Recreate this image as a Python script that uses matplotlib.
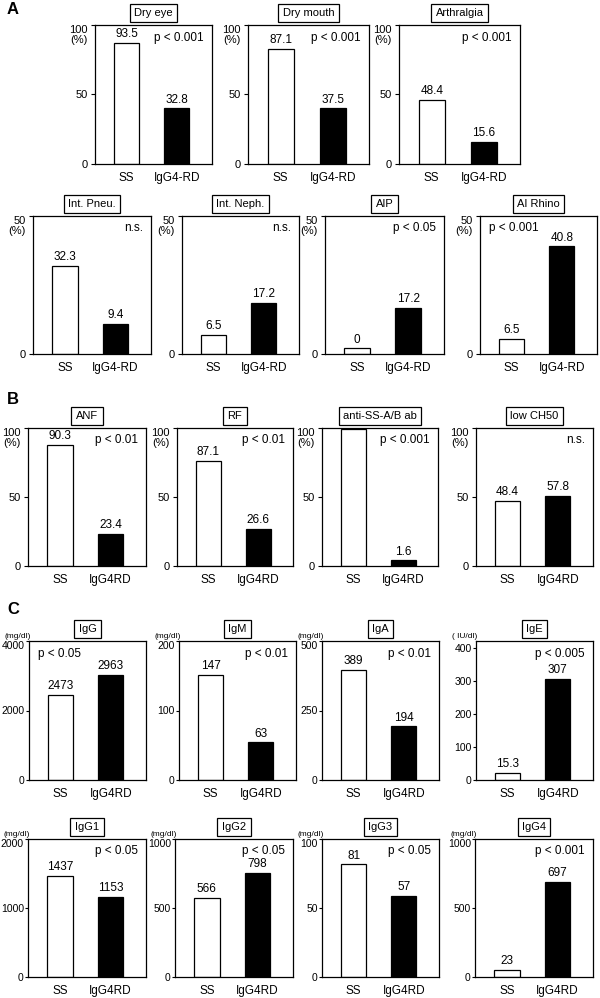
import matplotlib.pyplot as plt

plt.rcParams['font.family'] = ['Liberation Sans', 'DejaVu Sans']

# panel data (bar heights, labels as printed)
titles = ['Dry eye', 'Dry mouth', 'Arthralgia',
          'Int. Pneu.', 'Int. Neph.', 'AIP', 'AI Rhino',
          'ANF', 'RF', 'anti-SS-A/B ab', 'low CH50',
          'IgG', 'IgM', 'IgA', 'IgE',
          'IgG1', 'IgG2', 'IgG3', 'IgG4']
ss_bar = [87, 83, 46, 32, 7, 2, 5.4, 88, 76, 99, 47,
          2460, 151, 396, 21, 1464, 572, 81.6, 51]
rd_bar = [40, 40, 16, 11, 18.5, 16.7, 39, 23, 27, 4, 51,
          3020, 54, 193, 306, 1160, 754, 58.8, 688]
ss_text = ['93.5', '87.1', '48.4', '32.3', '6.5', '0', '6.5',
           '90.3', '87.1', '', '48.4',
           '2473', '147', '389', '15.3', '1437', '566', '81', '23']
rd_text = ['32.8', '37.5', '15.6', '9.4', '17.2', '17.2', '40.8',
           '23.4', '26.6', '1.6', '57.8',
           '2963', '63', '194', '307', '1153', '798', '57', '697']
p_text = ['p < 0.001', 'p < 0.001', 'p < 0.001',
          'n.s.', 'n.s.', 'p < 0.05', 'p < 0.001',
          'p < 0.01', 'p < 0.01', 'p < 0.001', 'n.s.',
          'p < 0.05', 'p < 0.01', 'p < 0.01', 'p < 0.005',
          'p < 0.05', 'p < 0.05', 'p < 0.05', 'p < 0.001']
p_left = ['AI Rhino', 'IgG']
y_ticks = [[0, 50, 100]] * 3 + [[0, 50]] * 4 + [[0, 50, 100]] * 4 + \
          [[0, 2000, 4000], [0, 100, 200], [0, 250, 500], [0, 100, 200, 300, 400],
           [0, 1000, 2000], [0, 500, 1000], [0, 50, 100], [0, 500, 1000]]
y_top = [100] * 3 + [50] * 4 + [100] * 4 + [4000, 200, 500, 420, 2000, 1000, 100, 1000]
units = [''] * 11 + ['(mg/dl)'] * 3 + ['( IU/dl)'] + ['(mg/dl)'] * 4
groups_a = ['SS', 'IgG4-RD']
groups_bc = ['SS', 'IgG4RD']

# layout in pixels: (top, bottom, [(left, right), ...])
rows = [(25, 164, [(95, 212), (248, 369), (399, 520)]),
        (216, 354, [(33, 151), (182, 299), (325, 444), (480, 597)]),
        (428, 566, [(28, 146), (177, 293), (322, 438), (476, 593)]),
        (641, 780, [(29, 146), (179, 296), (322, 439), (476, 593)]),
        (839, 977, [(28, 146), (175, 293), (322, 439), (475, 593)])]

W, H = 600, 998
fig = plt.figure(figsize=(6, 9.98), dpi=100)

i = 0
for r, (top, bot, cols) in enumerate(rows):
    for (l, rr) in cols:
        ax = fig.add_axes([l / W, 1 - bot / H, (rr - l) / W, (bot - top) / H])
        ax.bar([0, 1], [ss_bar[i], rd_bar[i]], width=0.5,
               color=['white', 'black'], edgecolor='black', linewidth=0.9)
        for x, h, t in [(0, ss_bar[i], ss_text[i]), (1, rd_bar[i], rd_text[i])]:
            ax.annotate(t, (x, h), xytext=(0, 2), textcoords='offset points',
                        ha='center', va='bottom', fontsize=8.5)
        ax.set_xlim(-0.63, 1.7)
        ax.set_ylim(0, y_top[i])
        ax.set_xticks([0, 1])
        ax.set_xticklabels(groups_a if r < 2 else groups_bc, fontsize=8.5)
        ax.tick_params(axis='x', length=0, pad=6)
        ax.set_yticks(y_ticks[i])
        labels = [str(v) for v in y_ticks[i]]
        if r < 3:
            labels[-1] = labels[-1] + '\n(%)'
        ax.set_yticklabels(labels, fontsize=8 if r < 3 else 7.5, linespacing=1.05)
        if titles[i] != 'IgE':
            ax.get_yticklabels()[-1].set_verticalalignment('top')
        if r < 3:
            ax.tick_params(axis='y', length=3, width=0.8, pad=2, direction='out')
        else:
            ax.tick_params(axis='y', length=2, width=0.8, pad=1, direction='out')
        for s in ax.spines.values():
            s.set_linewidth(0.9)
        if titles[i] in p_left:
            ax.text(0.08, 0.91, p_text[i], transform=ax.transAxes,
                    ha='left', va='center', fontsize=8.5)
        else:
            ax.text(0.93, 0.91, p_text[i], transform=ax.transAxes,
                    ha='right', va='center', fontsize=8.5)
        ax.text(0.5, 1 + 12 / (bot - top), titles[i], transform=ax.transAxes,
                ha='center', va='center', fontsize=8,
                bbox=dict(boxstyle='square,pad=0.4', fc='white', ec='black', lw=0.9))
        if units[i]:
            ax.annotate(units[i], (0, 1), xycoords='axes fraction', xytext=(1, 1),
                        textcoords='offset points', ha='right', va='bottom', fontsize=6)
        i += 1

for letter, y in [('A', 10), ('B', 399), ('C', 609)]:
    fig.text(13 / W, 1 - y / H, letter, fontsize=12, fontweight='bold',
             ha='center', va='center')

fig.savefig('out.png', dpi=100)
